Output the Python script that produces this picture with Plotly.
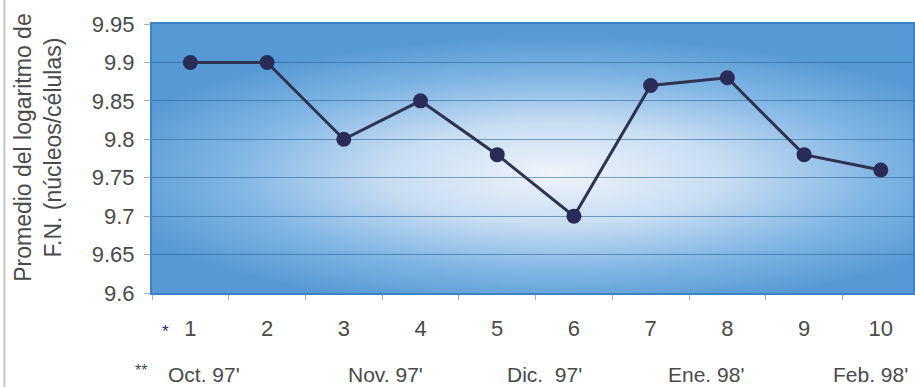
import base64
import struct
import zlib

import numpy as np
import plotly.graph_objects as go

# ---- data -------------------------------------------------------------
samples = [str(i) for i in range(1, 11)]
log_fn = [9.90, 9.90, 9.80, 9.85, 9.78, 9.70, 9.87, 9.88, 9.78, 9.76]

y_tick_vals = [9.6, 9.65, 9.7, 9.75, 9.8, 9.85, 9.9, 9.95]
y_tick_text = ["9.6", "9.65", "9.7", "9.75", "9.8", "9.85", "9.9", "9.95"]

months = ["Oct. 97'", "Nov. 97'", "Dic.  97'", "Ene. 98'", "Feb. 98'"]
month_at = [0.18, 2.54, 4.61, 6.72, 8.86]   # category-index positions

# ---- geometry ---------------------------------------------------------
W, H = 915, 387
ML, MR, MT, MB = 152, 0, 24, 94
PW, PH = W - ML - MR, H - MT - MB

FONT = "Liberation Sans, Arial, sans-serif"
TEXT = "#4a4a4a"


def px_x(p):
    return (p - ML) / PW


def px_y(p):
    return (H - MB - p) / PH


# ---- radial blue background for the plot area --------------------------
def gradient_png(w, h):
    xx, yy = np.meshgrid(np.arange(w) + 0.5, np.arange(h) + 0.5)
    d = np.sqrt(((xx - 405) / 420.0) ** 2 + ((yy - 150) / 125.0) ** 2)
    stops = [0.0, 0.4, 0.78, 1.1]
    cols = np.array([(240, 244, 251), (200, 222, 243), (128, 181, 228), (86, 154, 213)], float)
    rgb = np.stack([np.interp(d, stops, cols[:, c]) for c in range(3)], axis=-1)
    rgb = np.clip(rgb, 0, 255).astype(np.uint8)
    raw = b"".join(b"\x00" + rgb[r].tobytes() for r in range(h))

    def chunk(tag, data):
        return (struct.pack(">I", len(data)) + tag + data
                + struct.pack(">I", zlib.crc32(tag + data) & 0xFFFFFFFF))

    png = (b"\x89PNG\r\n\x1a\n"
           + chunk(b"IHDR", struct.pack(">IIBBBBB", w, h, 8, 2, 0, 0, 0))
           + chunk(b"IDAT", zlib.compress(raw, 9))
           + chunk(b"IEND", b""))
    return "data:image/png;base64," + base64.b64encode(png).decode()


fig = go.Figure()
fig.add_trace(go.Scatter(
    x=samples, y=log_fn, mode="lines+markers",
    line=dict(color="#2d3350", width=3),
    marker=dict(size=15, color="#2a2c58", line=dict(width=0)),
    hoverinfo="x+y", showlegend=False,
))

annotations = [
    # two-line y-axis title
    dict(text="Promedio del logaritmo de<br>F.N. (núcleos/células)",
         textangle=-90, xref="paper", yref="paper",
         x=px_x(37.5), y=px_y(148), xanchor="center", yanchor="middle",
         showarrow=False, align="center",
         font=dict(family=FONT, size=23, color=TEXT)),
    # row markers
    dict(text="*", xref="x", yref="paper", x=-0.33, y=px_y(331),
         xanchor="center", yanchor="middle", showarrow=False,
         font=dict(family=FONT, size=17, color="#1f2a80")),
    dict(text="**", xref="paper", yref="paper", x=px_x(141), y=px_y(370),
         xanchor="center", yanchor="middle", showarrow=False,
         font=dict(family=FONT, size=16, color=TEXT)),
]
for name, pos in zip(months, month_at):
    annotations.append(dict(
        text=name, xref="x", yref="paper", x=pos, y=px_y(374),
        xanchor="center", yanchor="middle", showarrow=False,
        font=dict(family=FONT, size=21, color=TEXT)))

fig.update_layout(
    width=W, height=H,
    margin=dict(l=ML, r=MR, t=MT, b=MB),
    paper_bgcolor="white",
    plot_bgcolor="rgba(0,0,0,0)",
    font=dict(family=FONT, size=22, color=TEXT),
    images=[dict(source=gradient_png(PW, PH), xref="x domain", yref="y domain",
                 x=0, y=1, sizex=1, sizey=1, xanchor="left", yanchor="top",
                 sizing="stretch", layer="below")],
    shapes=[dict(type="line", xref="paper", yref="paper",
                 x0=px_x(4), x1=px_x(4), y0=px_y(H), y1=px_y(0),
                 line=dict(color="#c4c4c4", width=2))],
    annotations=annotations,
    xaxis=dict(
        type="category", range=[-0.5, 9.42],
        tickson="boundaries", ticks="outside", ticklen=5, tickcolor="#b0b0b0",
        showgrid=False, showline=True, linecolor="#3b82c6", linewidth=2,
        mirror=True, ticklabelstandoff=15,
        tickfont=dict(family=FONT, size=22, color=TEXT),
    ),
    yaxis=dict(
        range=[9.6, 9.95], tickvals=y_tick_vals, ticktext=y_tick_text,
        ticks="outside", ticklen=6, tickcolor="#b0b0b0",
        showgrid=True, gridcolor="rgba(35,95,145,0.55)", gridwidth=1,
        showline=True, linecolor="#3b82c6", linewidth=2, mirror=True,
        zeroline=False, ticklabelstandoff=5,
        tickfont=dict(family=FONT, size=22, color=TEXT),
    ),
)

fig.write_html("out.html")
